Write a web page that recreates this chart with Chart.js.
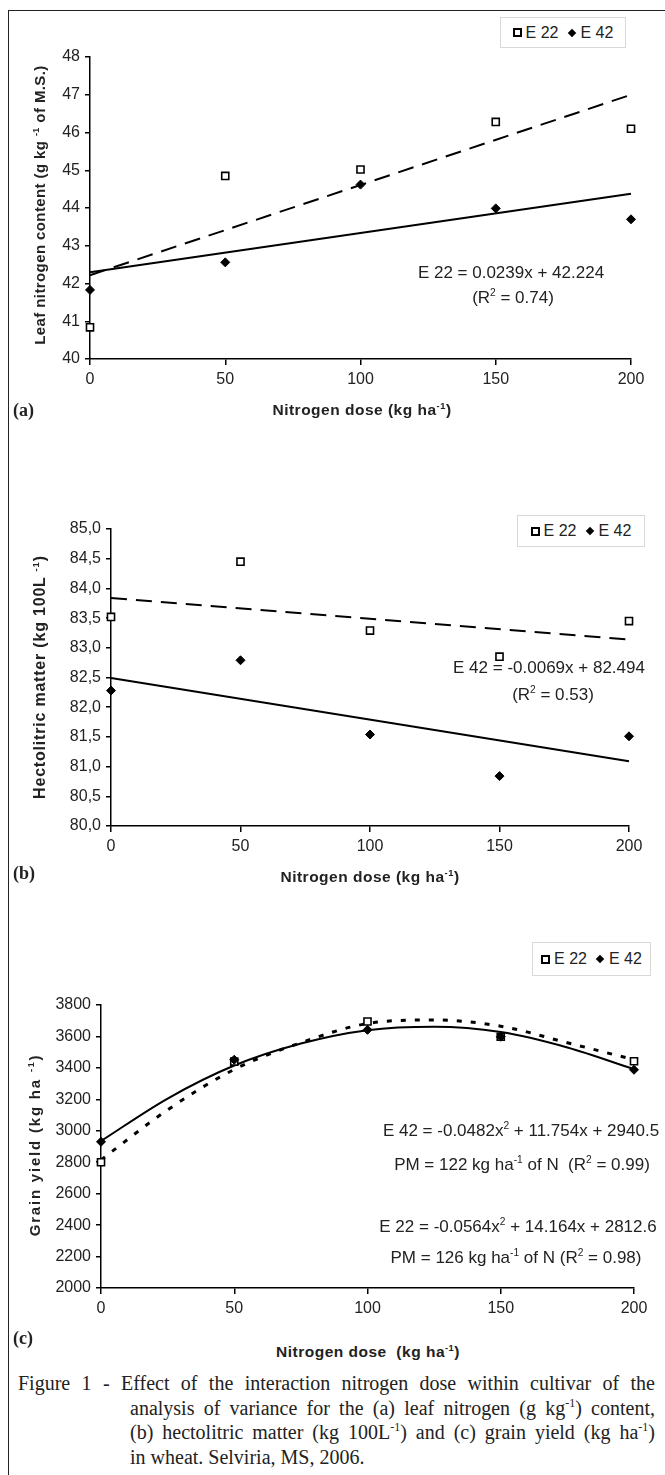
<!DOCTYPE html>
<html>
<head>
<meta charset="utf-8">
<script src="https://cdn.jsdelivr.net/npm/chart.js@4.4.0/dist/chart.umd.min.js"></script>
<style>
  body { margin: 0; background: #fff; }
  #page { position: relative; width: 665px; height: 1475px; overflow: hidden; font-family: "Liberation Sans", Arial, sans-serif; color: #222; }
  .frame { position: absolute; left: 8px; top: 10px; width: 700px; height: 1500px; border-left: 1.5px solid #222; border-top: 1.5px solid #222; }
  canvas { position: absolute; left: 0; }
  .abs { position: absolute; white-space: nowrap; z-index: 2; }
  .legend { border: 1px solid #d8d8d8; font-size: 16px; display: flex; align-items: center; justify-content: center; gap: 4px; background: #fff; }
  .mk-sq { display: inline-block; width: 5px; height: 5px; border: 2px solid #000; background: #fff; }
  .mk-di { display: inline-block; width: 6px; height: 6px; background: #000; transform: rotate(45deg); margin-left: 6px; }
  .ytitle { font-weight: bold; font-size: 15px; transform: translate(-50%, -50%) rotate(-90deg); }
  .xtitle { font-weight: bold; font-size: 15.5px; letter-spacing: 0.5px; transform: translate(-50%, -50%); }
  .panel { font-family: "Liberation Serif", "Times New Roman", serif; font-weight: bold; font-size: 18px; transform: translateY(-50%); }
  .eq { font-size: 17px; transform: translate(-50%, -50%); text-align: center; }
  sup { font-size: 0.6em; vertical-align: super; line-height: 0; }
  .cap { position: absolute; font-family: "Liberation Serif", "Times New Roman", serif; font-size: 20px; color: #222; text-align: justify; text-align-last: justify; white-space: nowrap; transform: translateY(-50%); }
</style>
</head>
<body>
<div id="page">
  <div class="frame"></div>

  <canvas id="chartA" width="665" height="380" style="top:30px"></canvas>
  <canvas id="chartB" width="665" height="380" style="top:500px"></canvas>
  <canvas id="chartC" width="665" height="355" style="top:975px"></canvas>

  <div class="abs legend" id="legA" style="left:500px;top:17px;width:124px;height:29px"></div>
  <div class="abs legend" id="legB" style="left:517px;top:515px;width:126px;height:30px"></div>
  <div class="abs legend" id="legC" style="left:532px;top:942px;width:117px;height:32px"></div>

  <div class="abs ytitle" style="left:39px;top:205px;letter-spacing:0.4px">Leaf nitrogen content (g kg <sup>-1</sup> of M.S.)</div>
  <div class="abs ytitle" style="left:40px;top:677px;font-size:16px;letter-spacing:0.8px">Hectolitric matter (kg 100L <sup>-1</sup>)</div>
  <div class="abs ytitle" style="left:34px;top:1145px;letter-spacing:1.8px">Grain yield (kg ha <sup>-1</sup>)</div>

  <div class="abs xtitle" style="left:362px;top:410px">Nitrogen dose (kg ha<sup>-1</sup>)</div>
  <div class="abs xtitle" style="left:370px;top:877px">Nitrogen dose (kg ha<sup>-1</sup>)</div>
  <div class="abs xtitle" style="left:368px;top:1352px">Nitrogen dose&nbsp;&nbsp;(kg ha<sup>-1</sup>)</div>

  <div class="abs panel" style="left:13px;top:410px">(a)</div>
  <div class="abs panel" style="left:13px;top:873px">(b)</div>
  <div class="abs panel" style="left:13px;top:1338px">(c)</div>

  <div class="abs eq" style="left:511px;top:273px">E 22 = 0.0239x + 42.224</div>
  <div class="abs eq" style="left:513px;top:298px">(R<sup>2</sup> = 0.74)</div>
  <div class="abs eq" style="left:549px;top:668px">E 42 = -0.0069x + 82.494</div>
  <div class="abs eq" style="left:553px;top:695px">(R<sup>2</sup> = 0.53)</div>
  <div class="abs eq" style="left:521px;top:1131px">E 42 = -0.0482x<sup>2</sup> + 11.754x + 2940.5</div>
  <div class="abs eq" style="left:522px;top:1165px">PM = 122 kg ha<sup>-1</sup> of N&nbsp;&nbsp;(R<sup>2</sup> = 0.99)</div>
  <div class="abs eq" style="left:518px;top:1227px">E 22 = -0.0564x<sup>2</sup> + 14.164x + 2812.6</div>
  <div class="abs eq" style="left:516px;top:1258px">PM = 126 kg ha<sup>-1</sup> of N (R<sup>2</sup> = 0.98)</div>

  <div class="cap" style="left:18px;top:1383px;width:637px">Figure 1 - Effect of the interaction nitrogen dose within cultivar of the</div>
  <div class="cap" style="left:130px;top:1408px;width:525px">analysis of variance for the (a) leaf nitrogen (g kg<sup>-1</sup>) content,</div>
  <div class="cap" style="left:130px;top:1432px;width:525px">(b) hectolitric matter (kg 100L<sup>-1</sup>) and (c) grain yield (kg ha<sup>-1</sup>)</div>
  <div class="cap" style="left:130px;top:1457px;text-align-last:left">in wheat. Selviria, MS, 2006.</div>
</div>

<script>
// shared
const seriesNames = ['E 22', 'E 42'];
const doses = [0, 50, 100, 150, 200];
const doseTicks = [0, 50, 100, 150, 200];

// (a) leaf nitrogen content
const leafE22 = [40.84, 44.85, 45.02, 46.28, 46.10];
const leafE42 = [41.83, 42.56, 44.62, 43.99, 43.70];
const leafFitX = [0, 200];
const leafFitE22 = [42.22, 47.0];
const leafFitE42 = [42.30, 44.38];
const leafTicks = [40, 41, 42, 43, 44, 45, 46, 47, 48];

// (b) hectolitric matter
const hectoE22 = [83.52, 84.45, 83.29, 82.85, 83.45];
const hectoE42 = [82.28, 82.79, 81.54, 80.84, 81.51];
const hectoFitX = [0, 200];
const hectoFitE22 = [83.84, 83.14];
const hectoFitE42 = [82.49, 81.09];
const hectoTicks = [80, 80.5, 81, 81.5, 82, 82.5, 83, 83.5, 84, 84.5, 85];
const hectoTickLabels = ['80,0', '80,5', '81,0', '81,5', '82,0', '82,5', '83,0', '83,5', '84,0', '84,5', '85,0'];

// (c) grain yield
const yieldE22 = [2800, 3440, 3695, 3598, 3442];
const yieldE42 = [2930, 3452, 3642, 3598, 3388];
const curveX = [0, 25, 50, 75, 100, 125, 150, 175, 200];
const curveE22 = [2815, 3133, 3390, 3560, 3682, 3705, 3665, 3560, 3452];
const curveE42 = [2935, 3205, 3415, 3555, 3640, 3662, 3628, 3530, 3392];
const yieldTicks = [2000, 2200, 2400, 2600, 2800, 3000, 3200, 3400, 3600, 3800];

const sans = '"Liberation Sans", Arial, sans-serif';

function pairs(xs, ys) {
    return xs.map((x, i) => ({ x: x, y: ys[i] }));
}

function buildLegend(id) {
    const el = document.getElementById(id);
    el.innerHTML = '<span class="mk-sq"></span><span>' + seriesNames[0] + '</span>' +
        '<span class="mk-di"></span><span style="margin-left:2px">' + seriesNames[1] + '</span>';
}

function makeChart(id, o) {
    const ctx = document.getElementById(id).getContext('2d');
    return new Chart(ctx, {
        type: 'scatter',
        data: {
            datasets: [
                { label: seriesNames[1], data: pairs(doses, o.e42), pointStyle: 'rectRot', pointRadius: 4.5,
                  backgroundColor: '#000', borderColor: '#000', borderWidth: 1, order: 0, clip: false },
                { label: seriesNames[0], data: pairs(doses, o.e22), pointStyle: 'rect', pointRadius: 5,
                  backgroundColor: '#fff', borderColor: '#000', borderWidth: 1.6, order: 1, clip: false },
                { label: seriesNames[0] + ' fit', data: pairs(o.fitX, o.fit22), showLine: true, pointRadius: 0,
                  borderColor: '#000', borderWidth: o.dashWidth, borderDash: o.dash, tension: o.tension,
                  cubicInterpolationMode: o.interp, order: 2, clip: false },
                { label: seriesNames[1] + ' fit', data: pairs(o.fitX, o.fit42), showLine: true, pointRadius: 0,
                  borderColor: '#000', borderWidth: 2, tension: o.tension, cubicInterpolationMode: o.interp,
                  order: 3, clip: false }
            ]
        },
        options: {
            responsive: false,
            animation: false,
            layout: { padding: { top: o.padTop, right: o.padRight, left: 0, bottom: 0 } },
            plugins: { legend: { display: false }, tooltip: { enabled: false } },
            scales: {
                x: {
                    type: 'linear', min: 0, max: 200,
                    afterBuildTicks: s => { s.ticks = doseTicks.map(v => ({ value: v })); },
                    afterFit: s => { s.height = o.xHeight; },
                    grid: { drawOnChartArea: false, color: '#000', tickLength: 6, lineWidth: 1.5 },
                    border: { color: '#000', width: 1.5 },
                    ticks: { color: '#222', font: { family: sans, size: 16 }, padding: 5, maxRotation: 0 }
                },
                y: {
                    type: 'linear', min: o.ticks[0], max: o.ticks[o.ticks.length - 1],
                    afterBuildTicks: s => { s.ticks = o.ticks.map(v => ({ value: v })); },
                    afterFit: s => { s.width = o.yWidth; },
                    grid: { drawOnChartArea: false, color: '#000', tickLength: 5, lineWidth: 1.5 },
                    border: { color: '#000', width: 1.5 },
                    ticks: {
                        color: '#222', font: { family: sans, size: 16 }, padding: 5,
                        callback: (v, i) => o.labels ? o.labels[i] : v
                    }
                }
            }
        }
    });
}

buildLegend('legA');
buildLegend('legB');
buildLegend('legC');

makeChart('chartA', {
    e22: leafE22, e42: leafE42, fitX: leafFitX, fit22: leafFitE22, fit42: leafFitE42,
    ticks: leafTicks, dash: [16, 9], dashWidth: 2, tension: 0, interp: 'default',
    padTop: 27, padRight: 34, yWidth: 90, xHeight: 51
});

makeChart('chartB', {
    e22: hectoE22, e42: hectoE42, fitX: hectoFitX, fit22: hectoFitE22, fit42: hectoFitE42,
    ticks: hectoTicks, labels: hectoTickLabels, dash: [16, 9], dashWidth: 2, tension: 0, interp: 'default',
    padTop: 29, padRight: 36, yWidth: 111, xHeight: 54
});

makeChart('chartC', {
    e22: yieldE22, e42: yieldE42, fitX: curveX, fit22: curveE22, fit42: curveE42,
    ticks: yieldTicks, dash: [5, 9], dashWidth: 3, tension: 0.4, interp: 'monotone',
    padTop: 30, padRight: 31, yWidth: 101, xHeight: 42
});
</script>
</body>
</html>
